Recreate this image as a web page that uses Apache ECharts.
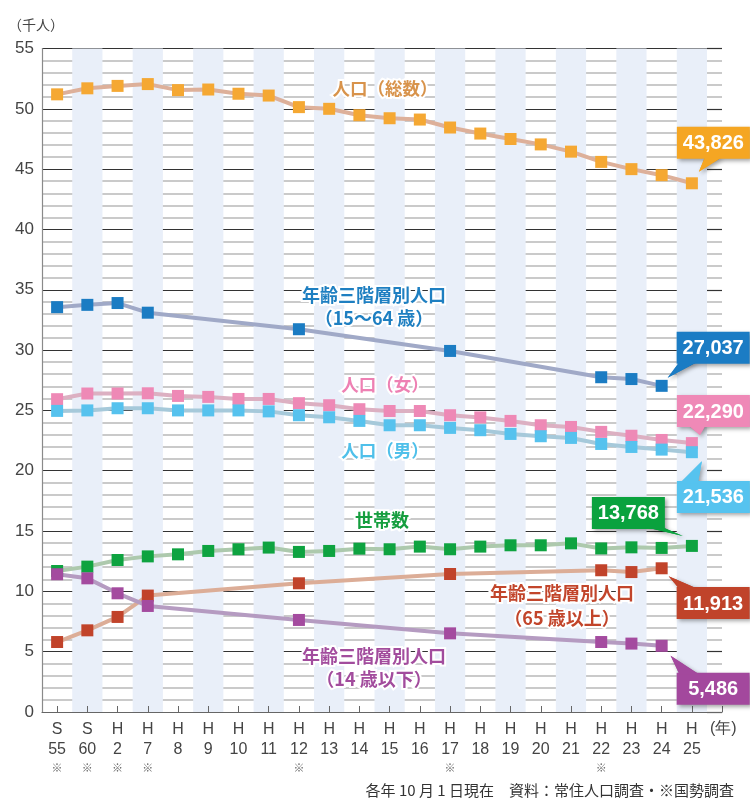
<!DOCTYPE html>
<html><head><meta charset="utf-8">
<script src="https://cdn.jsdelivr.net/npm/echarts/dist/echarts.min.js"></script>
<style>html,body{margin:0;padding:0;background:#fff}#c{width:750px;height:801px}</style>
</head><body><div id="c"></div>
<script>
// ---- data ----
const eras = ['S','S','H','H','H','H','H','H','H','H','H','H','H','H','H','H','H','H','H','H','H','H'];
const years = ['55','60','2','7','8','9','10','11','12','13','14','15','16','17','18','19','20','21','22','23','24','25'];
const census = [1,1,1,1,0,0,0,0,1,0,0,0,0,1,0,0,0,0,1,0,0,0];
const yTicks = [0,5,10,15,20,25,30,35,40,45,50,55];

const total = [51.2,51.7,51.9,52.05,51.55,51.6,51.25,51.1,50.14,50.0,49.47,49.22,49.11,48.45,47.95,47.5,47.05,46.45,45.6,45.0,44.5,43.826];
const age1564 = [33.56,33.75,33.9,33.1,null,null,null,null,31.73,null,null,null,null,29.93,null,null,null,null,27.75,27.6,27.037,null];
const female = [25.93,26.4,26.4,26.42,26.2,26.12,25.95,25.95,25.6,25.43,25.1,24.95,24.95,24.6,24.42,24.13,23.77,23.63,23.22,22.9,22.55,22.29];
const male = [24.96,25.0,25.18,25.18,25.0,25.0,25.0,24.92,24.6,24.43,24.13,23.77,23.77,23.55,23.36,23.05,22.86,22.72,22.22,21.97,21.75,21.536];
const households = [11.69,12.05,12.6,12.9,13.07,13.35,13.49,13.63,13.27,13.35,13.54,13.49,13.71,13.49,13.71,13.82,13.82,13.98,13.56,13.65,13.6,13.768];
const age65 = [5.8,6.77,7.88,9.65,null,null,null,null,10.67,null,null,null,null,11.44,null,null,null,null,11.75,11.6,11.913,null];
const age14 = [11.42,11.08,9.84,8.79,null,null,null,null,7.63,null,null,null,null,6.52,null,null,null,null,5.8,5.67,5.486,null];

const calloutTexts = ['43,826','27,037','22,290','21,536','13,768','11,913','5,486'];

// ---- chart ----
const chart = echarts.init(document.getElementById('c'), null, {renderer:'canvas'});
const TOP = 48.5, BOTTOM = 89;
const minorLine = {show:true, lineStyle:{color:'#b9b9b9', width:1.5}};
const majorLine = {show:true, lineStyle:{color:'#333', width:1.2}};

function mkSeries(name, data, sym, line, extra) {
  return Object.assign({
    name, type:'line', data, xAxisIndex:0, yAxisIndex:0,
    symbol:'rect', symbolSize:12, connectNulls:true, animation:false,
    itemStyle:{color:sym},
    lineStyle:{color:line, width:4},
    emphasis:{disabled:true}
  }, extra||{});
}

const option = {
  backgroundColor:'#fff',
  animation:false,
  grid:[
    {left:42, width:665, top:TOP, bottom:BOTTOM, containLabel:false},
    {left:707, width:15, top:TOP, bottom:BOTTOM, containLabel:false}
  ],
  xAxis:[
    {type:'category', gridIndex:0, data:years, boundaryGap:true,
     axisLine:{show:true, lineStyle:{color:'#666', width:1.2}},
     axisTick:{show:true, inside:true, alignWithLabel:true, length:6, lineStyle:{color:'#666'}},
     splitLine:{show:false},
     splitArea:{show:true, areaStyle:{color:['rgba(255,255,255,0)','#e9eff9']}},
     axisLabel:{interval:0, margin:8,
       formatter:function(v, i){
         let s = '{e|' + eras[i] + '}\n{n|' + years[i] + '}';
         if (census[i]) s += '\n{m|※}';
         return s;
       },
       rich:{
         e:{fontSize:16, lineHeight:20, color:'#444', fontFamily:'Liberation Sans'},
         n:{fontSize:16, lineHeight:20, color:'#444', fontFamily:'Liberation Sans'},
         m:{fontSize:11, lineHeight:15, color:'#666', fontFamily:'Noto Sans CJK JP'}
       }
     }
    },
    {type:'value', gridIndex:1, min:0, max:1,
     axisLine:{show:true, lineStyle:{color:'#666', width:1.2}},
     axisTick:{show:true, inside:true, length:6, customValues:[1], lineStyle:{color:'#666'}},
     axisLabel:{show:false}, splitLine:{show:false}}
  ],
  yAxis:[
    {type:'value', gridIndex:0, min:0, max:55, interval:5,
     axisLine:{show:true, lineStyle:{color:'#8a8a8a', width:1.2}},
     axisTick:{show:false},
     axisLabel:{fontSize:17, color:'#444', margin:8, fontFamily:'Liberation Sans',
       formatter:function(v){ return yTicks.indexOf(v) >= 0 ? String(v) : ''; }},
     splitLine:majorLine,
     minorTick:{show:false, splitNumber:5},
     minorSplitLine:minorLine},
    {type:'value', gridIndex:1, min:0, max:55, interval:5,
     axisLine:{show:false}, axisTick:{show:false}, axisLabel:{show:false},
     splitLine:majorLine,
     minorTick:{show:false, splitNumber:5},
     minorSplitLine:minorLine}
  ],
  series:[
    mkSeries('人口（総数）', total, '#f5a833', '#ddb09a'),
    mkSeries('15～64歳', age1564, '#1b7cc3', '#a0a9c7'),
    mkSeries('人口（女）', female, '#ee89b6', '#dcb0c2'),
    mkSeries('人口（男）', male, '#56c2ee', '#a6c9da'),
    mkSeries('世帯数', households, '#0ea340', '#adc9ad'),
    mkSeries('65歳以上', age65, '#c1432a', '#dcad97'),
    mkSeries('14歳以下', age14, '#a44b9f', '#b59bc1')
  ]
};
chart.setOption(option);

// ---- annotations ----
const g = [];
const CJK = '"Noto Sans CJK JP", sans-serif';
function label(text, cx, cy, color, size) {
  g.push({type:'text', x:cx, y:cy, z:50, silent:true,
    style:{text, fill:color, font:'bold ' + (size||18) + 'px ' + CJK,
      textAlign:'center', textVerticalAlign:'middle', stroke:'#fff', lineWidth:4}});
}
label('人口（総数）', 385, 88, '#d8934b', 17.5);
label('年齢三階層別人口', 374, 295, '#1e7fc1');
label('（15～64 歳）', 374, 318, '#1e7fc1');
label('人口（女）', 385, 384, '#ee80b3', 17.5);
label('人口（男）', 385, 450, '#4fc0ea', 17.5);
label('世帯数', 382, 520, '#169e3f');
label('年齢三階層別人口', 562, 593, '#c2452b');
label('（65 歳以上）', 562, 618, '#c2452b');
label('年齢三階層別人口', 374, 656, '#a24c9d');
label('（14 歳以下）', 374, 679, '#a24c9d');

g.push({type:'text', x:8, y:25, silent:true,
  style:{text:'（千人）', fill:'#444', font:'14px ' + CJK, textAlign:'left', textVerticalAlign:'middle'}});
g.push({type:'text', x:710, y:729, silent:true,
  style:{text:'(年)', fill:'#444', font:'16px "Liberation Sans"', textAlign:'left', textVerticalAlign:'middle'}});
g.push({type:'text', x:734, y:790, silent:true,
  style:{text:'各年 10 月 1 日現在　資料：常住人口調査・※国勢調査', fill:'#333', font:'15px ' + CJK, textAlign:'right', textVerticalAlign:'middle'}});

// callouts: [series data, index, text, color, box rel [dx,dy,w,h], tail rel points]
const callouts = [
  [total, 21, calloutTexts[0], '#f5a623', [-15,-56.5,73,32], [[13,-26],[30,-26],[7,-11.5]]],
  [age1564, 20, calloutTexts[1], '#1b7cc4', [15,-54,73,32], [[18,-24],[36,-24],[6,-8]]],
  [female, 21, calloutTexts[2], '#ef89b7', [-15,-48,73,32], [[-4,-18],[14,-18],[8,-8]]],
  [male, 21, calloutTexts[3], '#56c3ef', [-15,28.7,73,32], [[-12,31],[6,31],[10,9]]],
  [households, 21, calloutTexts[4], '#0aa23e', [-100,-49,73,32], [[-47,-19],[-30,-19],[-9,-10]]],
  [age65, 20, calloutTexts[5], '#c0432a', [15,18.7,73,32], [[18,21],[37,21],[7,8]]],
  [age14, 20, calloutTexts[6], '#a3489d', [15,27,73,32], [[18,29],[38,29],[9,10]]]
];
const shadow = {shadowBlur:4, shadowOffsetX:2, shadowOffsetY:2, shadowColor:'rgba(0,0,0,0.35)'};
callouts.forEach(function(c){
  const p = chart.convertToPixel({xAxisIndex:0, yAxisIndex:0}, [c[1], c[0][c[1]]]);
  const b = c[4];
  g.push({type:'polygon', z:60, silent:true,
    shape:{points:c[5].map(function(q){ return [p[0]+q[0], p[1]+q[1]]; })},
    style:Object.assign({fill:c[3]}, shadow)});
  g.push({type:'rect', z:61, silent:true,
    shape:{x:p[0]+b[0], y:p[1]+b[1], width:b[2], height:b[3]},
    style:Object.assign({fill:c[3]}, shadow)});
  g.push({type:'polygon', z:62, silent:true,
    shape:{points:c[5].map(function(q){ return [p[0]+q[0], p[1]+q[1]]; })},
    style:{fill:c[3]}});
  g.push({type:'text', z:63, silent:true, x:p[0]+b[0]+b[2]/2, y:p[1]+b[1]+b[3]/2+1,
    style:{text:c[2], fill:'#fff', font:'bold 20px "Liberation Sans"', textAlign:'center', textVerticalAlign:'middle'}});
});
chart.setOption({graphic:g});
</script>
</body></html>
